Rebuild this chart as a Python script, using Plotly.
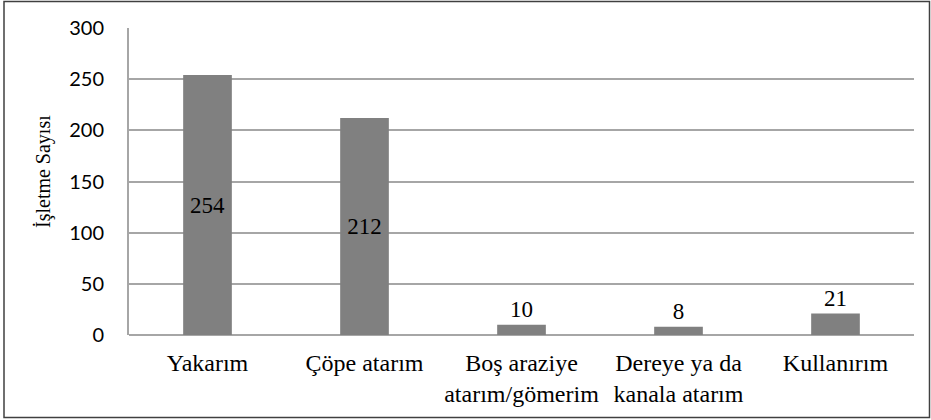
import plotly.graph_objects as go

categories = ["Yakarım", "Çöpe atarım", "Boş araziye<br>atarım/gömerim",
              "Dereye ya da<br>kanala atarım", "Kullanırım"]
counts = [254, 212, 10, 8, 21]
y_ticks = [0, 50, 100, 150, 200, 250, 300]
y_title = "İşletme Sayısı"

serif = "Liberation Serif"
sans = "Lato"

W, H = 931, 420
L, R, T, B = 129, 17, 28, 85

positions = ["inside" if v > 50 else "outside" for v in counts]

fig = go.Figure(go.Bar(
    x=categories,
    y=counts,
    text=[str(v) for v in counts],
    textposition=positions,
    insidetextanchor="middle",
    textfont=dict(family=serif, size=23, color="black"),
    insidetextfont=dict(family=serif, size=23, color="black"),
    outsidetextfont=dict(family=serif, size=23, color="black"),
    marker=dict(color="#808080", line=dict(width=0)),
    cliponaxis=False,
    hoverinfo="skip",
))

# helpers converting pixel positions into paper coordinates
pw, ph = W - L - R, H - T - B
def px_x(p):
    return (p - L) / pw
def px_y(p):
    return (H - B - p) / ph

# outer frame around the whole figure
fig.add_shape(type="rect", xref="paper", yref="paper",
              x0=px_x(4), x1=px_x(929.5), y0=px_y(417.5), y1=px_y(1.5),
              line=dict(color="#404040", width=1.5), fillcolor="rgba(0,0,0,0)",
              layer="above")

# vertical axis title
fig.add_annotation(xref="paper", yref="paper", x=px_x(43), y=px_y(172),
                   text=y_title, textangle=-90, showarrow=False,
                   xanchor="center", yanchor="middle",
                   font=dict(family=serif, size=20, color="black"))

fig.update_layout(
    width=W, height=H,
    margin=dict(l=L, r=R, t=T, b=B),
    paper_bgcolor="white",
    plot_bgcolor="white",
    bargap=0.69,
    showlegend=False,
    font=dict(family=serif, color="black"),
    xaxis=dict(
        showgrid=False,
        showline=False,
        ticks="outside", ticklen=6, tickcolor="rgba(0,0,0,0)",
        tickfont=dict(family=serif, size=24, color="black"),
        fixedrange=True,
    ),
    yaxis=dict(
        range=[0, 300],
        tickvals=y_ticks,
        showgrid=True, gridcolor="#a6a6a6", gridwidth=2,
        zeroline=True, zerolinecolor="#a6a6a6", zerolinewidth=2,
        showline=True, linecolor="#a6a6a6", linewidth=2,
        ticks="outside", ticklen=19, tickcolor="rgba(0,0,0,0)",
        tickfont=dict(family=sans, size=20, color="black"),
        fixedrange=True,
    ),
)

fig.write_html("out.html")
